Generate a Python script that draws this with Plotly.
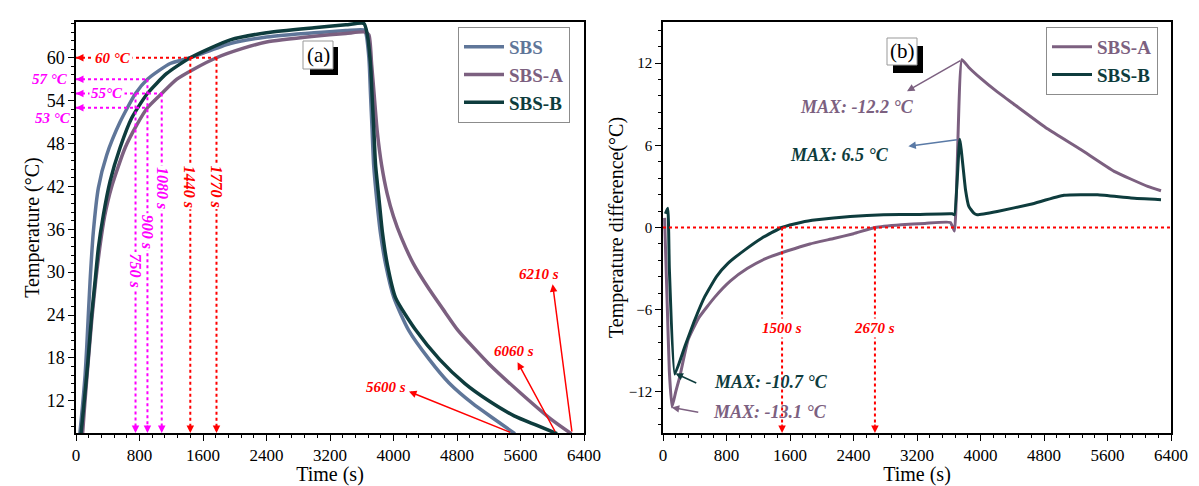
import plotly.graph_objects as go

# ---------------- data: panel (a) temperature ----------------
sbs_t = [45, 80, 114, 135, 177, 219, 282, 387, 555, 750, 900, 1187, 1440, 1944, 2400, 3000, 3400, 3620,
         3650, 3690, 3710, 3730, 3750, 3790, 3835, 3901, 4006, 4190, 4450, 4700, 5000, 5250, 5530]
sbs_T = [7.0, 11.0, 15.5, 19.5, 28.7, 35.7, 41.8, 46.4, 51.0, 55.0, 57.0, 59.2, 60.0, 62.0, 62.9, 63.5, 63.8, 63.9,
         63.5, 60.0, 55.0, 50.0, 45.0, 40.0, 35.5, 31.1, 26.4, 21.9, 17.8, 14.5, 11.6, 9.6, 7.4]

sbsa_t = [80, 110, 150, 200, 250, 300, 360, 450, 619, 766, 900, 1080, 1271, 1500, 1770, 2100, 2400, 3000, 3400, 3640,
          3690, 3725, 3760, 3795, 3850, 3920, 4000, 4100, 4250, 4450, 4650, 4810, 5200, 5600, 6000, 6240]
sbsa_T = [7.0, 11.5, 17.0, 23.5, 29.0, 33.5, 37.8, 42.0, 47.4, 50.6, 53.0, 55.0, 57.0, 58.5, 60.0, 61.3, 62.2, 63.0, 63.4, 63.6,
          63.2, 59.0, 54.3, 49.7, 45.0, 41.0, 37.8, 34.8, 31.2, 27.6, 24.4, 21.9, 17.2, 13.1, 9.3, 7.4]

sbsb_t = [60, 100, 150, 198, 240, 282, 345, 429, 555, 703, 900, 1144, 1440, 1944, 2400, 3000, 3400, 3627,
          3670, 3711, 3732, 3753, 3774, 3816, 3859, 3922, 4027, 4280, 4580, 4900, 5200, 5520, 5800, 6060]
sbsb_T = [7.0, 11.5, 17.5, 24.1, 28.7, 33.4, 38.0, 42.7, 47.4, 51.6, 55.0, 57.8, 60.0, 62.5, 63.5, 64.2, 64.6, 64.8,
          63.2, 59.0, 54.3, 49.7, 45.0, 40.4, 35.7, 31.1, 26.4, 21.9, 17.8, 14.4, 12.0, 9.9, 8.6, 7.4]

# ---------------- data: panel (b) temperature difference ----------------
da_t = [20, 50, 80, 114, 160, 211, 316, 450, 650, 850, 1060, 1300, 1570, 1850, 2150, 2400, 2670, 3000, 3300, 3620,
        3672, 3765, 3850, 4000, 4200, 4421, 4843, 5263, 5684, 6106, 6274]
da_D = [0.7, -5.0, -10.5, -13.1, -12.0, -10.9, -8.2, -6.6, -5.1, -3.9, -3.0, -2.25, -1.7, -1.2, -0.8, -0.45, 0.0, 0.2, 0.3, 0.37,
        -0.25, 12.25, 11.7, 10.9, 9.95, 9.0, 7.2, 5.69, 4.1, 3.0, 2.68]

db_t = [30, 60, 80, 148, 274, 400, 526, 674, 821, 1032, 1243, 1495, 1748, 1937, 2358, 2779, 3200, 3643,
        3672, 3739, 3811, 3853, 3916, 3958, 4211, 4632, 5052, 5474, 5895, 6274]
db_D = [1.0, 1.4, -3.0, -10.7, -8.7, -6.75, -5.05, -3.58, -2.6, -1.63, -0.78, 0.0, 0.39, 0.56, 0.8, 0.93, 0.95, 1.0,
        0.93, 6.45, 2.76, 1.54, 1.05, 0.93, 1.17, 1.7, 2.35, 2.39, 2.15, 2.03]

x_ticks = [0, 800, 1600, 2400, 3200, 4000, 4800, 5600, 6400]

C_SBS = "#5F7699"
C_A = "#7C6080"
C_B = "#0E3C3D"
RED = "#FF0000"
MAG = "#FF00FF"
SERIF = "Liberation Serif"

W, H = 1199, 486
def px(x):
    return x / W
def py(y):
    return 1 - y / H

fig = go.Figure()

def leg(name, color):
    return f"<b><span style='color:{color}'>{name}</span></b>"

fig.add_trace(go.Scatter(x=sbs_t, y=sbs_T, mode="lines", line=dict(color=C_SBS, width=3.5, shape="spline", smoothing=0.6),
                         name=leg("SBS", C_SBS), xaxis="x", yaxis="y", legend="legend"))
fig.add_trace(go.Scatter(x=sbsa_t, y=sbsa_T, mode="lines", line=dict(color=C_A, width=3.5, shape="spline", smoothing=0.6),
                         name=leg("SBS-A", C_A), xaxis="x", yaxis="y", legend="legend"))
fig.add_trace(go.Scatter(x=sbsb_t, y=sbsb_T, mode="lines", line=dict(color=C_B, width=3.5, shape="spline", smoothing=0.6),
                         name=leg("SBS-B", C_B), xaxis="x", yaxis="y", legend="legend"))

fig.add_trace(go.Scatter(x=da_t, y=da_D, mode="lines", line=dict(color=C_A, width=3, shape="spline", smoothing=0.4),
                         name=leg("SBS-A", C_A), xaxis="x2", yaxis="y2", legend="legend2"))
fig.add_trace(go.Scatter(x=db_t, y=db_D, mode="lines", line=dict(color=C_B, width=3, shape="spline", smoothing=0.4),
                         name=leg("SBS-B", C_B), xaxis="x2", yaxis="y2", legend="legend2"))

# ---------- guide lines (dotted) ----------
YB = 7.5
guides_a = [
    ([0, 1770], [60, 60], RED),
    ([1440, 1440], [60, YB + 0.6], RED),
    ([1770, 1770], [60, YB + 0.6], RED),
    ([0, 900], [57, 57], MAG),
    ([0, 1080], [55, 55], MAG),
    ([0, 900], [53, 53], MAG),
    ([750, 750], [55, YB + 0.6], MAG),
    ([900, 900], [57, YB + 0.6], MAG),
    ([1080, 1080], [55, YB + 0.6], MAG),
]
for xs, ys, c in guides_a:
    fig.add_trace(go.Scatter(x=xs, y=ys, mode="lines", line=dict(color=c, width=2, dash="dot"),
                             showlegend=False, hoverinfo="skip", xaxis="x", yaxis="y"))
guides_b = [
    ([0, 6400], [0, 0]),
    ([1500, 1500], [0, -14.3]),
    ([2670, 2670], [0, -14.3]),
]
for xs, ys in guides_b:
    fig.add_trace(go.Scatter(x=xs, y=ys, mode="lines", line=dict(color=RED, width=2, dash="dot"),
                             showlegend=False, hoverinfo="skip", xaxis="x2", yaxis="y2"))

ann = []
def arrowhead(x, y, ax, ay, color, xr="x", yr="y", size=1.0, width=1.5):
    ann.append(dict(x=x, y=y, ax=ax, ay=ay, xref=xr, yref=yr, axref="pixel", ayref="pixel", text="",
                    showarrow=True, arrowhead=2, arrowsize=size, arrowwidth=width, arrowcolor=color, standoff=0))

# arrowheads at ends of dotted guides
arrowhead(0, 60, 9, 0, RED)
arrowhead(0, 57, 9, 0, MAG)
arrowhead(0, 55, 9, 0, MAG)
arrowhead(0, 53, 9, 0, MAG)
for xv, c in [(750, MAG), (900, MAG), (1080, MAG), (1440, RED), (1770, RED)]:
    arrowhead(xv, YB, 0, -9, c)
for xv in [1500, 2670]:
    arrowhead(xv, -15, 0, -10, RED, "x2", "y2")

def label(x, y, text, color, size=15, xr="x", yr="y", angle=0, bg="white"):
    ann.append(dict(x=x, y=y, xref=xr, yref=yr, text=f"<b><i>{text}</i></b>", showarrow=False, textangle=angle,
                    xanchor="center", yanchor="middle",
                    font=dict(family=SERIF, size=size, color=color), bgcolor=bg, borderpad=1))

label(467, 60, "60 °C", RED)
label(391, 55, "55°C", MAG)
label(px(50), py(79), "57 °C", MAG, xr="paper", yr="paper", bg="rgba(0,0,0,0)")
label(px(53), py(118), "53 °C", MAG, xr="paper", yr="paper", bg="rgba(0,0,0,0)")
label(750, 30.3, "750 s", MAG, size=16, angle=90)
label(900, 35.6, "900 s", MAG, size=16, angle=90)
label(1080, 41.8, "1080 s", MAG, size=16, angle=90)
label(1440, 41.9, "1440 s", RED, size=16, angle=90)
label(1770, 41.9, "1770 s", RED, size=16, angle=90)

# cooling-end arrows (panel a)
def arrow_data(x, y, ax, ay, color, xr="x", yr="y"):
    ann.append(dict(x=x, y=y, ax=ax, ay=ay, xref=xr, yref=yr, axref=xr, ayref=yr, text="",
                    showarrow=True, arrowhead=2, arrowsize=1, arrowwidth=1.5, arrowcolor=color, standoff=0))

arrow_data(4195, 13.3, 5490, 7.5, RED)
arrow_data(5563, 17.4, 6046, 7.5, RED)
arrow_data(6005, 28.3, 6250, 7.5, RED)
label(3900, 13.9, "5600 s", RED, bg="rgba(0,0,0,0)")
label(5516, 19.0, "6060 s", RED, bg="rgba(0,0,0,0)")
label(5832, 29.7, "6210 s", RED, bg="rgba(0,0,0,0)")

# panel b annotations
label(1500, -7.34, "1500 s", RED, xr="x2", yr="y2")
label(2670, -7.34, "2670 s", RED, xr="x2", yr="y2")
arrow_data(3074, 9.95, 3765, 12.25, C_A, "x2", "y2")
arrow_data(3091, 5.93, 3722, 6.42, "#5A7AA6", "x2", "y2")
arrow_data(157, -10.65, 438, -11.4, C_B, "x2", "y2")
arrow_data(110, -13.14, 463, -13.5, C_A, "x2", "y2")
label(2447, 8.76, "MAX: -12.2 °C", C_A, size=18, xr="x2", yr="y2", bg="rgba(0,0,0,0)")
label(2219, 5.32, "MAX: 6.5 °C", C_B, size=18, xr="x2", yr="y2", bg="rgba(0,0,0,0)")
label(1358, -11.27, "MAX: -10.7 °C", C_B, size=18, xr="x2", yr="y2", bg="rgba(0,0,0,0)")
label(1348, -13.46, "MAX: -13.1 °C", C_A, size=18, xr="x2", yr="y2", bg="rgba(0,0,0,0)")

# panel tags
ann.append(dict(x=px(318), y=py(55), xref="paper", yref="paper", text="(a)", showarrow=False,
                xanchor="center", yanchor="middle", font=dict(family=SERIF, size=21, color="black")))
ann.append(dict(x=px(902), y=py(51.5), xref="paper", yref="paper", text="(b)", showarrow=False,
                xanchor="center", yanchor="middle", font=dict(family=SERIF, size=21, color="black")))

shapes = [
    dict(type="rect", xref="paper", yref="paper", x0=px(310), x1=px(338), y0=py(75), y1=py(47),
         fillcolor="black", line=dict(width=0)),
    dict(type="rect", xref="paper", yref="paper", x0=px(303), x1=px(333), y0=py(69), y1=py(41),
         fillcolor="white", line=dict(color="#999999", width=1)),
    dict(type="rect", xref="paper", yref="paper", x0=px(893), x1=px(923), y0=py(73), y1=py(46),
         fillcolor="black", line=dict(width=0)),
    dict(type="rect", xref="paper", yref="paper", x0=px(887), x1=px(917), y0=py(65), y1=py(38),
         fillcolor="white", line=dict(color="#999999", width=1)),
]

axis_common = dict(showline=True, linecolor="black", linewidth=1.5, mirror=True, ticks="outside",
                   ticklen=6, tickwidth=1.2, tickcolor="black", showgrid=False, zeroline=False,
                   color="black", automargin=False)
xtick_font = dict(family=SERIF, size=17, color="black")
title_font = dict(family=SERIF, size=20, color="black")

fig.update_layout(
    width=W, height=H,
    margin=dict(l=0, r=0, t=0, b=0, autoexpand=False),
    paper_bgcolor="white", plot_bgcolor="white",
    xaxis=dict(domain=[px(76), px(584)], range=[0, 6400], tickvals=x_ticks, tickfont=xtick_font,
               title=dict(text="Time (s)", font=title_font, standoff=4),
               minor=dict(dtick=160, ticklen=3, tickcolor="black", ticks="outside"), anchor="y", **axis_common),
    yaxis=dict(domain=[py(433), py(22)], range=[7.5, 65], dtick=6, tick0=0,
               tickfont=dict(family=SERIF, size=18, color="black"),
               title=dict(text="Temperature (°C)", font=title_font, standoff=2),
               minor=dict(dtick=1.2, tick0=0, ticklen=3, tickcolor="black", ticks="outside"), anchor="x", **axis_common),
    xaxis2=dict(domain=[px(663), px(1171)], range=[0, 6400], tickvals=x_ticks, tickfont=xtick_font,
                title=dict(text="Time (s)", font=title_font, standoff=4),
                minor=dict(dtick=160, ticklen=3, tickcolor="black", ticks="outside"), anchor="y2", **axis_common),
    yaxis2=dict(domain=[py(433), py(22)], range=[-15, 15], dtick=6, tick0=0,
                tickfont=dict(family=SERIF, size=15, color="black"),
                title=dict(text="Temperature difference(°C)", font=title_font, standoff=0),
                minor=dict(dtick=1.2, tick0=0, ticklen=3, tickcolor="black", ticks="outside"), anchor="x2", **axis_common),
    legend=dict(x=px(458), y=py(27), xanchor="left", yanchor="top", bgcolor="white", bordercolor="#8c8c8c",
                borderwidth=1, font=dict(family=SERIF, size=19), tracegroupgap=0, itemwidth=40),
    legend2=dict(x=px(1046), y=py(27), xanchor="left", yanchor="top", bgcolor="white", bordercolor="#8c8c8c",
                 borderwidth=1, font=dict(family=SERIF, size=19), tracegroupgap=0, itemwidth=40),
    shapes=shapes,
    annotations=ann,
    showlegend=True,
)

fig.write_html("out.html")
